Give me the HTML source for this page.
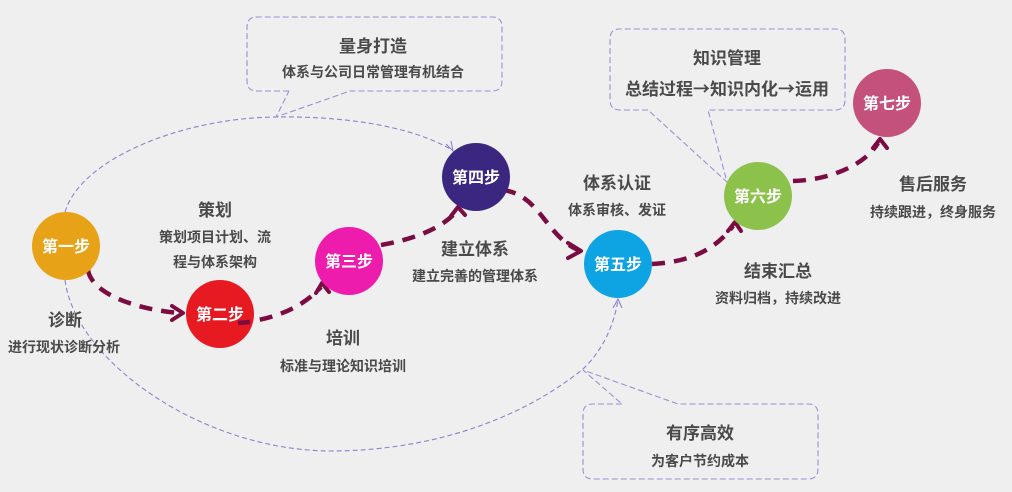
<!DOCTYPE html>
<html><head><meta charset="utf-8"><style>
html,body{margin:0;padding:0;background:#efefef;}
svg{display:block;}
text{font-family:"Liberation Sans","Noto Sans CJK SC",sans-serif;font-weight:bold;}
.t{fill:#4a4a4a;text-anchor:middle;}
.c{fill:#fff;text-anchor:middle;font-size:16px;}
.thin{fill:none;stroke:#8c82cf;stroke-width:1.1;stroke-dasharray:5 3;}
.bx{fill:none;stroke:#9a90d6;stroke-width:1.1;stroke-dasharray:6 3;}
.m{fill:none;stroke:#7a0c42;stroke-width:4.5;stroke-dasharray:13 9;}
.h{fill:none;stroke:#7a0c42;stroke-width:4;stroke-linecap:round;stroke-linejoin:round;}
.ht{fill:none;stroke:#8c82cf;stroke-width:1.1;}
.ar{font-family:"Noto Sans CJK SC","WenQuanYi Zen Hei",sans-serif;}
</style></head><body>
<svg width="1012" height="492" viewBox="0 0 1012 492" xmlns="http://www.w3.org/2000/svg">
<rect width="1012" height="492" fill="#efefef"/>

<!-- thin arcs -->
<path class="thin" d="M65 212 C80 160,180 118,276 117 C340 116,410 125,452 150"/>
<path class="ht" d="M446 144 L453 151 L451 141"/>
<path class="thin" d="M65 280 C75 360,200 450,330 451 C430 451,520 420,583 369 C603 350,614 325,618 300"/>
<path class="ht" d="M613 308 L618 299 L622 308"/>

<!-- callout boxes -->
<path class="bx" d="M289 91 L257 91 Q247 91 247 81 L247 27 Q247 17 257 17 L492 17 Q502 17 502 27 L502 81 Q502 91 492 91 L350 91 L276 117 L289 91"/>
<path class="bx" d="M648 110 L620 110 Q610 110 610 100 L610 39 Q610 29 620 29 L835 29 Q845 29 845 39 L845 100 Q845 110 835 110 L708 110 L727 182 L648 110"/>
<path class="bx" d="M622 404 L593 404 Q583 404 583 414 L583 469 Q583 479 593 479 L808 479 Q818 479 818 469 L818 414 Q818 404 808 404 L678 404 L583 370 L622 404"/>

<!-- maroon arrows -->
<path class="m" d="M88 270 C92 295,140 310,180 313"/>
<path class="h" d="M172 306 L183 313 L172 320"/>
<path class="m" d="M238 323 C270 320,300 310,321 287"/>
<path class="h" d="M316 293 L322 283 L329 292"/>
<path class="m" d="M381 245 C410 240,440 230,456 212"/>
<path class="h" d="M451 216 L458 207 L465 215"/>
<path class="m" d="M503 190 C540 195,545 235,578 250"/>
<path class="h" d="M568 243 L581 251 L568 258"/>
<path class="m" d="M652 264 C690 262,715 250,733 226"/>
<path class="h" d="M728 231 L735 222 L741 231"/>
<path class="m" d="M793 181 C830 180,865 165,878 143"/>
<path class="h" d="M873 148 L880 139 L887 148"/>

<!-- circles -->
<circle cx="66" cy="246" r="34" fill="#e8a218"/>
<circle cx="220" cy="314" r="34" fill="#e71a22"/>
<circle cx="349" cy="261" r="34" fill="#ee1cac"/>
<circle cx="476" cy="177" r="34" fill="#3b2680"/>
<circle cx="618" cy="264" r="34" fill="#0ea4e3"/>
<circle cx="758" cy="196" r="34" fill="#8cc24c"/>
<circle cx="887" cy="103" r="34" fill="#c4507c"/>
<path class="m" d="M238 323 L250 322" />

<text class="c" x="66" y="252">第一步</text>
<text class="c" x="220" y="320">第二步</text>
<text class="c" x="349" y="267">第三步</text>
<text class="c" x="476" y="183">第四步</text>
<text class="c" x="618" y="270">第五步</text>
<text class="c" x="758" y="202">第六步</text>
<text class="c" x="887" y="109">第七步</text>

<!-- labels -->
<text class="t" x="373" y="52" font-size="17">量身打造</text>
<text class="t" x="373" y="77" font-size="14">体系与公司日常管理有机结合</text>
<text class="t" x="727" y="64" font-size="17">知识管理</text>
<text class="t" x="727" y="95" font-size="17">总结过程<tspan class="ar">→</tspan>知识内化<tspan class="ar">→</tspan>运用</text>
<text class="t" x="215" y="216" font-size="17">策划</text>
<text class="t" x="215" y="242" font-size="14">策划项目计划、流</text>
<text class="t" x="215" y="267" font-size="14">程与体系架构</text>
<text class="t" x="65" y="326" font-size="17">诊断</text>
<text class="t" x="64" y="352" font-size="14">进行现状诊断分析</text>
<text class="t" x="343" y="344" font-size="17">培训</text>
<text class="t" x="343" y="371" font-size="14">标准与理论知识培训</text>
<text class="t" x="475" y="255" font-size="17">建立体系</text>
<text class="t" x="475" y="281" font-size="14">建立完善的管理体系</text>
<text class="t" x="617" y="189" font-size="17">体系认证</text>
<text class="t" x="617" y="215" font-size="14">体系审核、发证</text>
<text class="t" x="778" y="277" font-size="17">结束汇总</text>
<text class="t" x="778" y="303" font-size="14">资料归档，持续改进</text>
<text class="t" x="933" y="190" font-size="17">售后服务</text>
<text class="t" x="933" y="217" font-size="14">持续跟进，终身服务</text>
<text class="t" x="700" y="439" font-size="17">有序高效</text>
<text class="t" x="700" y="466" font-size="14">为客户节约成本</text>
</svg>
</body></html>
